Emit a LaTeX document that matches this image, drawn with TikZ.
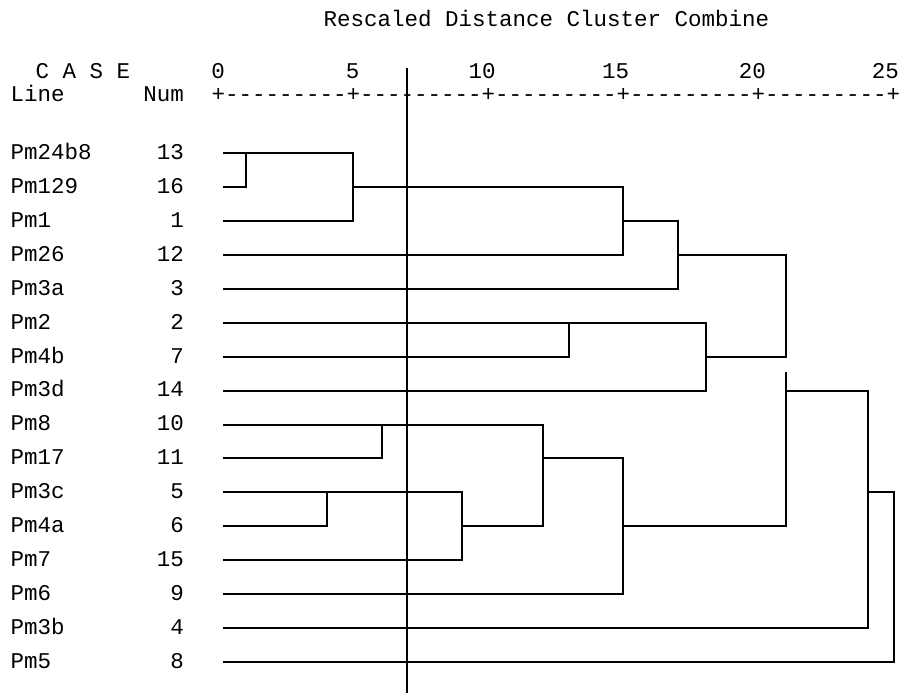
\documentclass[tikz,border=0pt]{standalone}
\usepackage{fontspec}
\setmonofont{Liberation Mono}
\begin{document}
\begin{tikzpicture}[x=1pt,y=-1pt,
  txt/.style={font=\ttfamily\fontsize{22.5}{26}\selectfont, inner sep=0pt, text=black},
  dline/.style={line width=2pt, line cap=rect, line join=miter, draw=black}]
\useasboundingbox[fill=white] (0,0) rectangle (899,693);
% header
\node[txt, anchor=base west] (title) at (323.5,26.7) {Rescaled Distance Cluster Combine};
\node[txt, anchor=base west] (case) at (35.5,78.3) {C A S E};
\node[txt, anchor=base west] (line) at (10.5,101.7) {Line};
\node[txt, anchor=base east] (numh) at (184,101.7) {Num};
\node[txt, anchor=base west] (axis) at (211.3,101.7) {+---------+---------+---------+---------+---------+};
\node[txt, anchor=base] (t0) at (218,78.3) {0};
\node[txt, anchor=base] (t5) at (352.7,78.3) {5};
\node[txt, anchor=base east] (t10) at (495.7,78.3) {10};
\node[txt, anchor=base east] (t15) at (629.4,78.3) {15};
\node[txt, anchor=base east] (t20) at (766,78.3) {20};
\node[txt, anchor=base east] (t25) at (899,78.3) {25};
% rows
\foreach \i/\lab/\num in {1/Pm24b8/13, 2/Pm129/16, 3/Pm1/1, 4/Pm26/12, 5/Pm3a/3, 6/Pm2/2, 7/Pm4b/7, 8/Pm3d/14, 9/Pm8/10, 10/Pm17/11, 11/Pm3c/5, 12/Pm4a/6, 13/Pm7/15, 14/Pm6/9, 15/Pm3b/4, 16/Pm5/8}{
  \pgfmathsetmacro\yy{153.3+33.9*(\i-1)}
  \node[txt, anchor=base west] (n\i) at (10.5,\yy+6.3) {\lab};
  \node[txt, anchor=base east] (c\i) at (184,\yy+6.3) {\num};
  \coordinate (s\i) at (224,\yy);
}
% vertical guides (x positions of joins)
\coordinate (Xa) at (245.7,0);
\coordinate (Xb) at (353.3,0);
\coordinate (Xc) at (623.3,0);
\coordinate (Xd) at (677.7,0);
\coordinate (Xe) at (785.7,0);
\coordinate (Xg) at (706,0);
\coordinate (Xh) at (569.3,0);
\coordinate (Xi) at (867.7,0);
\coordinate (Xj) at (894,0);
\coordinate (Xk) at (543.3,0);
\coordinate (Xl) at (381.7,0);
\coordinate (Xm) at (461.7,0);
\coordinate (Xn) at (326.7,0);
\coordinate (gapTop) at (785.7,372.7);
% upper clusters
\draw[dline] (s1) -- (s1 -| Xb) -- (s3 -| Xb) -- (s3);
\draw[dline] (s2) -- (s2 -| Xa) -- (s1 -| Xa);
\draw[dline] (s2 -| Xb) -- (s2 -| Xc) -- (s4 -| Xc) -- (s4);
\draw[dline] (s3 -| Xc) -- (s3 -| Xd) -- (s5 -| Xd) -- (s5);
\draw[dline] (s4 -| Xd) -- (s4 -| Xe) -- (s7 -| Xe);
\draw[dline] (s6) -- (s6 -| Xg) -- (s8 -| Xg) -- (s8);
\draw[dline] (s7) -- (s7 -| Xh) -- (s6 -| Xh);
\draw[dline] (s7 -| Xg) -- (s7 -| Xe);
% outer clusters
\draw[dline] (gapTop) -- (s12 -| Xe);
\draw[dline] (s8 -| Xe) -- (s8 -| Xi) -- (s15 -| Xi) -- (s15);
\draw[dline] (s11 -| Xi) -- (s11 -| Xj) -- (s16 -| Xj) -- (s16);
% lower clusters
\draw[dline] (s9) -- (s9 -| Xk) -- (s12 -| Xk);
\draw[dline] (s10) -- (s10 -| Xl) -- (s9 -| Xl);
\draw[dline] (s11) -- (s11 -| Xm) -- (s13 -| Xm) -- (s13);
\draw[dline] (s12) -- (s12 -| Xn) -- (s11 -| Xn);
\draw[dline] (s12 -| Xm) -- (s12 -| Xk);
\draw[dline] (s10 -| Xk) -- (s10 -| Xc) -- (s14 -| Xc) -- (s14);
\draw[dline] (s12 -| Xc) -- (s12 -| Xe);
% cut line
\coordinate (vtop) at (407.3,67.7);
\coordinate (vbot) at (407.3,693);
\draw[line width=2pt, draw=black] (vtop) -- (vbot);
\end{tikzpicture}
\end{document}
